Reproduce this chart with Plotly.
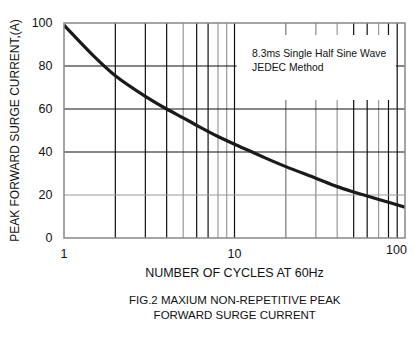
import plotly.graph_objects as go
import numpy as np

cycles = [1, 1.5, 2, 3, 4, 5, 6, 8, 10, 12.5, 15, 20, 30, 40, 50, 60, 80, 100]
current = [99, 84.5, 75.5, 65.9, 60, 55.9, 52.4, 47.2, 43.6, 40.2, 37.4, 33.2, 27.8, 23.9, 21.4, 19.5, 16.6, 14.3]

x_ticks = [1, 10, 100]
y_ticks = [0, 20, 40, 60, 80, 100]
vgrid = [2, 3, 4, 5, 6, 7, 8, 9, 10, 20, 30, 40, 50, 60, 70, 80, 90]
vgrid_col = ["#111", "#111", "#111", "#999", "#111", "#111", "#999", "#999", "#111",
             "#777", "#888", "#999", "#111", "#111", "#999", "#111", "#111"]
hgrid = [20, 40, 60, 80]
hgrid_col = ["#999", "#111", "#111", "#111"]

fig = go.Figure()
fig.add_trace(go.Scatter(x=cycles, y=current, mode="lines",
                         line=dict(color="#1a1a1a", width=3.2, shape="spline", smoothing=0.8),
                         hoverinfo="skip", showlegend=False))

shapes = []
for v, c in zip(vgrid, vgrid_col):
    shapes.append(dict(type="line", xref="x", yref="y", x0=v, x1=v, y0=0, y1=100,
                       line=dict(color=c, width=1.2), layer="below"))
for v, c in zip(hgrid, hgrid_col):
    shapes.append(dict(type="line", xref="x", yref="y", x0=1, x1=100, y0=v, y1=v,
                       line=dict(color=c, width=1.2), layer="below"))
# white box behind note
shapes.append(dict(type="rect", xref="x", yref="y", x0=10.3, x1=88.5, y0=64.2, y1=94.4,
                   fillcolor="white", line=dict(width=0), layer="between"))
# border
shapes.append(dict(type="rect", xref="paper", yref="paper", x0=0, x1=1, y0=0, y1=1,
                   line=dict(color="#888", width=1.5), layer="above"))

# page body has an 8px margin, so the figure is sized/offset to compensate
fig.update_layout(
    width=409, height=350,
    margin=dict(l=56, r=12, t=15, b=120),
    paper_bgcolor="white", plot_bgcolor="white",
    font=dict(family="Liberation Sans, Arial, sans-serif", color="#111"),
    shapes=shapes,
    showlegend=False,
)
fig.update_xaxes(type="log", range=[0, 2], tickvals=x_ticks[:-1], ticktext=[str(t) for t in x_ticks[:-1]],
                 showgrid=False, zeroline=False, showline=False,
                 ticks="outside", ticklen=4, tickcolor="rgba(0,0,0,0)",
                 tickfont=dict(size=12.5), automargin=False,
                 title=dict(text="NUMBER OF CYCLES AT 60Hz", font=dict(size=12.5), standoff=8))
fig.update_yaxes(range=[0, 100], tickvals=y_ticks, showgrid=False, zeroline=False,
                 showline=False, ticks="outside", ticklen=8, tickcolor="rgba(0,0,0,0)",
                 tickfont=dict(size=12.5), automargin=False,
                 title=dict(text="PEAK FORWARD SURGE CURRENT,(A)", font=dict(size=12), standoff=12))

# last x tick label, nudged inside like the reference
fig.add_annotation(x=np.log10(x_ticks[-1]), y=0, xref="x", yref="paper", xanchor="center", yanchor="top",
                   text=str(x_ticks[-1]), showarrow=False, xshift=-9, yshift=-3, font=dict(size=12.5))

fig.add_annotation(x=0.545, y=0.825, xref="paper", yref="paper", xanchor="left", yanchor="middle",
                   text="8.3ms Single Half Sine Wave<br>JEDEC Method", align="left",
                   showarrow=False, font=dict(size=10.4))
fig.add_annotation(x=0.5, y=-0.25, xref="paper", yref="paper", xanchor="center", yanchor="top",
                   text="FIG.2 MAXIUM NON-REPETITIVE PEAK<br>FORWARD SURGE CURRENT", align="center",
                   showarrow=False, font=dict(size=11.5))

fig.write_html("out.html")
